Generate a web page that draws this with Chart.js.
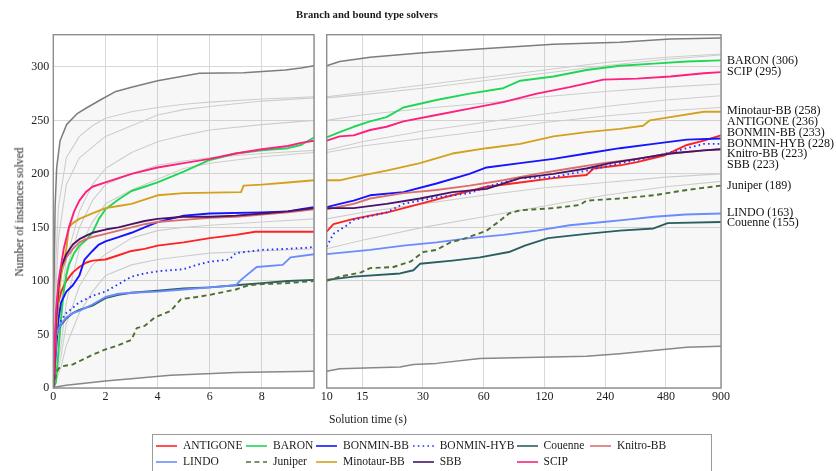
<!DOCTYPE html>
<html><head><meta charset="utf-8">
<script src="https://cdn.jsdelivr.net/npm/chart.js@4.4.1/dist/chart.umd.min.js"></script>
<style>
html,body{margin:0;padding:0;background:#fff;}
#wrap{position:relative;width:836px;height:471px;overflow:hidden;font-family:"Liberation Serif","Times New Roman",serif;color:#1a1a1a;}
canvas{position:absolute;left:0;top:0;}
.t{position:absolute;white-space:nowrap;line-height:1;}
#title{left:367px;top:13.5px;transform:translate(-50%,-50%);font-weight:bold;font-size:10.7px;}
#ytitle{left:19.5px;top:211.5px;transform:translate(-50%,-50%) rotate(-90deg);font-size:11.6px;}
#xtitle{left:368px;top:420px;transform:translate(-50%,-50%);font-size:11.6px;}
#legbox{position:absolute;left:152px;top:434px;width:560px;height:50px;border:1px solid #9a9a9a;box-sizing:border-box;}
.li{position:absolute;font-size:11.5px;white-space:nowrap;line-height:1;}
.li svg{position:absolute;left:0;top:-3px;}
.li span{position:absolute;left:27px;top:0;transform:translateY(-50%);}
</style></head><body>
<div id="wrap">
<canvas id="cL" width="836" height="420"></canvas>
<canvas id="cR" width="836" height="420"></canvas>
<div class="t" id="title">Branch and bound type solvers</div>
<div class="t" id="ytitle">Number of instances solved</div>
<div class="t" id="xtitle">Solution time (s)</div>
<div id="legbox"></div>
<div id="legend"></div>
</div>
<script>
// ---- data: [time (s), instances solved] ----
const ANTIGONE = [[0,0],[0.05,20],[0.1,55],[0.2,80],[0.3,90],[0.5,100],[0.75,108],[1,113],[1.25,117],[1.5,119],[2,120],[2.5,124],[3,128],[3.5,130],[4,133],[5,136],[6,140],[7,143],[7.75,146],[10,146],[10.8,153],[13.6,158],[16.4,161],[20,164],[29,172],[42,180],[62,188],[91,192],[133,196],[194,199],[210,205],[284,208],[345,211],[470,217],[610,227],[740,231],[900,236]];
const BARON = [[0,0],[0.1,5],[0.2,35],[0.3,65],[0.4,90],[0.5,105],[0.6,115],[0.8,126],[1,133],[1.25,138],[1.5,145],[1.75,158],[2,167],[2.5,176],[3,184],[3.5,188],[4,192],[5,202],[6,213],[7,219],[8,222],[9,224],[9.5,227],[10,234],[11.6,239],[13.6,244],[16.4,249],[19.8,253],[24,262],[35,269],[51,275],[75,280],[91,287],[133,291],[194,297],[284,301],[417,303],[610,305],[900,306]];
const BONMIN_BB = [[0,0],[0.05,15],[0.1,35],[0.2,65],[0.3,80],[0.5,90],[0.75,96],[1,105],[1.2,120],[1.5,128],[1.75,134],[2,137],[2.5,141],[3,145],[3.5,150],[4,155],[4.5,158],[5,161],[6,163],[8,164],[9,165],[9.5,167],[10,169],[11.6,172],[13.6,175],[16.4,180],[24,183],[35,191],[51,200],[62,206],[91,210],[133,214],[194,219],[284,224],[417,228],[610,232],[900,233]];
const BONMIN_HYB = [[0,0],[0.05,20],[0.1,45],[0.2,58],[0.3,63],[0.5,70],[0.75,75],[1,80],[1.5,86],[2,90],[2.5,97],[3,104],[3.5,107],[4,109],[5,111],[5.5,115],[6,118],[6.75,120],[7,126],[8,129],[9,130],[9.75,131],[10,132],[10.8,144],[12.6,152],[13.6,157],[19.8,164],[24,172],[35,178],[51,182],[62,188],[91,196],[133,197],[194,203],[284,210],[417,216],[610,224],[740,228],[900,228]];
const COUENNE = [[0,0],[0.05,20],[0.1,48],[0.2,55],[0.3,59],[0.5,65],[0.75,70],[1,73],[1.5,77],[2,84],[2.5,87],[3,89],[4,91],[5,93],[6,94],[7,96],[8,98],[9,100],[10,101],[13.6,104],[23.1,107],[26.9,110],[29,116],[42,119],[57.5,122],[80,127],[96,133],[125,140],[194,144],[284,147],[417,149],[490,154],[900,155]];
const KNITRO_BB = [[0,0],[0.05,18],[0.1,55],[0.2,90],[0.3,108],[0.5,122],[0.75,130],[1,136],[1.25,139],[1.5,141],[2,144],[2.5,147],[3,150],[3.5,153],[4,155],[5,157],[6,159],[7,160],[8,162],[9,164],[10,167],[13.6,172],[16.4,177],[24,182],[35,185],[51,189],[75,194],[110,200],[160,205],[235,210],[345,214],[504,219],[740,222],[900,223]];
const LINDO = [[0,0],[0.05,20],[0.1,48],[0.2,55],[0.3,60],[0.5,66],[0.75,70],[1,72],[1.5,78],[2,85],[2.5,88],[3,89],[4,90],[5,92],[6,94],[7,96],[7.2,101],[7.8,113],[8.8,115],[9.1,122],[10,125],[16.4,129],[24,133],[35,136],[51,140],[75,143],[110,147],[160,152],[235,155],[300,157],[420,160],[600,162],[900,163]];
const JUNIPER = [[0,0],[0.05,5],[0.1,13],[0.2,18],[0.3,20],[0.5,21],[0.75,22],[1,25],[1.5,31],[2,36],[2.5,40],[3,45],[3.2,56],[3.5,58],[3.9,66],[4.5,72],[4.9,83],[5.5,85],[6,87],[7,92],[7.5,96],[8,97],[9,98],[10,100],[11.6,104],[14.8,108],[16.4,112],[21.4,113],[26,118],[30.1,127],[35,129],[41,136],[49,140],[62,147],[72,156],[80,163],[91,166],[133,168],[180,171],[194,175],[284,177],[417,180],[610,185],[900,189]];
const MINOTAUR_BB = [[0,0],[0.05,20],[0.1,50],[0.2,85],[0.3,105],[0.4,118],[0.5,130],[0.55,140],[0.6,150],[0.75,154],[1,158],[1.5,163],[2,168],[2.5,170],[3,172],[3.5,176],[4,180],[5,182],[7.2,183],[7.3,189],[8,190],[9,192],[10,194],[11.6,194],[13.6,197],[19.8,203],[29,210],[42,219],[62,224],[91,228],[133,235],[194,239],[284,242],[370,245],[400,250],[504,253],[740,258],[900,258]];
const SBB = [[0,0],[0.05,20],[0.1,60],[0.2,95],[0.3,113],[0.5,125],[0.75,134],[1,139],[1.25,142],[1.5,145],[2,148],[2.5,150],[3,153],[3.5,156],[4,158],[5,160],[6,160],[7,161],[8,163],[9,165],[10,168],[13.6,168],[19.8,172],[29,177],[42,183],[62,186],[91,196],[133,200],[194,205],[254,210],[345,214],[504,219],[740,222],[900,223]];
const SCIP = [[0,0],[0.05,30],[0.1,70],[0.2,100],[0.3,115],[0.4,130],[0.5,140],[0.6,150],[0.8,165],[1,175],[1.25,183],[1.5,188],[2,192],[2.5,196],[3,200],[4,206],[5,210],[6,214],[7,219],[8,223],[9,226],[9.5,229],[10,231],[11.6,235],[13.6,236],[16.4,241],[19.8,244],[24,249],[35,255],[51,261],[75,267],[110,275],[160,281],[235,288],[345,289],[504,291],[740,294],[900,295]];
// other solvers (grey background)
const BEST = [[0,0],[0.03,100],[0.07,170],[0.13,206],[0.26,231],[0.51,246],[0.9,256],[1.3,262],[1.8,269],[2.4,277],[3,281],[4,287],[5.6,294],[7.3,294.5],[8.9,297],[9.5,299],[10,301],[11.6,305],[12.6,306],[16.4,309],[29,313],[62,317],[133,321],[284,323],[504,326],[900,327]];
const WORST = [[0,0],[0.1,1],[0.5,2.5],[1.3,4.7],[2,6.6],[3.1,8.8],[4.5,11.8],[5.9,13.4],[7,14.4],[10,15.6],[11.6,18],[23.1,19.6],[26.9,22],[35,23],[57.5,27.5],[194,29.6],[284,32],[415,35],[610,38],[900,39]];
const GREY1 = [[0,0],[0.1,120],[0.2,170],[0.5,215],[1,235],[1.5,245],[2,252],[3,258],[4,262],[5,265],[6,267],[8,270],[10,272],[15,276],[30,283],[60,290],[120,297],[240,304],[480,309],[900,312]];
const GREY2 = [[0,0],[0.1,90],[0.2,140],[0.5,190],[1,215],[2,235],[3,245],[4,255],[5,260],[6,263],[8,268],[10,271],[15,274],[30,280],[60,287],[120,294],[240,301],[480,307],[900,311]];
const GREY3 = [[0,0],[0.2,60],[0.5,120],[1,165],[1.5,190],[2,205],[3,220],[4,230],[5,236],[6,241],[8,246],[10,250],[15,255],[30,261],[60,266],[120,272],[240,277],[480,281],[900,284]];
const GREY4 = [[0,0],[0.2,50],[0.5,110],[1,150],[1.5,175],[2,190],[3,200],[4,208],[5,212],[6,215],[8,219],[10,222],[15,230],[30,240],[60,248],[120,256],[240,263],[480,269],[900,273]];
const GREY5 = [[0,0],[0.3,40],[0.5,80],[1,130],[1.5,155],[2,172],[3,185],[4,195],[5,205],[6,210],[8,216],[10,220],[15,226],[30,233],[60,240],[120,248],[240,254],[480,259],[900,262]];
const GREY6 = [[0,0],[0.3,30],[0.5,60],[1,95],[1.5,115],[2,125],[3,140],[4,147],[5,150],[6,152],[8,155],[10,158],[15,164],[30,172],[60,180],[120,187],[240,192],[480,197],[900,200]];
const GREY7 = [[0,0],[0.3,20],[0.5,40],[1,70],[1.5,90],[2,105],[3,115],[4,120],[5,123],[6,126],[8,128],[10,130],[15,138],[30,150],[60,160],[120,170],[240,180],[480,188],[900,193]];

const SOLVER_NAMES = ['ANTIGONE','BARON','BONMIN-BB','BONMIN-HYB','Couenne','Knitro-BB','LINDO','Juniper','Minotaur-BB','SBB','SCIP'];
const SOLVER_DATA = [ANTIGONE,BARON,BONMIN_BB,BONMIN_HYB,COUENNE,KNITRO_BB,LINDO,JUNIPER,MINOTAUR_BB,SBB,SCIP];
const GREY_DATA = [GREY1,GREY2,GREY3,GREY4,GREY5,GREY6,GREY7];
const X_TICKS_LEFT = [0,2,4,6,8,10];
const X_TICKS_RIGHT = [10,15,30,60,120,240,480,900];
const Y_TICKS = [0,50,100,150,200,250,300];

// ---- styles ----
const COLORS = ['#ff2222','#1fd655','#1414ff','#2233ff','#2a5f62','#d9706c','#6a8cff','#4d6f30','#d4a11e','#4a1466','#ff1f7c'];
const DASHES = [[],[],[],[1.6,3.2],[],[],[],[5,3.5],[],[],[]];
const FONT = '"Liberation Serif","Times New Roman",serif';

function pick(pts, left){
  return pts.filter(p => left ? p[0] <= 10 : p[0] >= 10).map(p => ({x:p[0], y:p[1]}));
}

const boxPlugin = {
  id:'box',
  afterDatasetsDraw(chart){
    const {ctx, chartArea:a} = chart;
    ctx.save();
    ctx.strokeStyle = '#8e8e8e';
    ctx.lineWidth = 1.4;
    ctx.strokeRect(a.left, a.top, a.right-a.left, a.bottom-a.top);
    ctx.restore();
  }
};

const labelPlugin = {
  id:'endLabels',
  afterDraw(chart){
    const {ctx, chartArea:a} = chart;
    const ys = chart.scales.y;
    const gap = 10.7;
    const items = SOLVER_NAMES.map((n,i) => {
      const v = SOLVER_DATA[i][SOLVER_DATA[i].length-1][1];
      return {text: n + ' (' + v + ')', v, idx:i, desired: ys.getPixelForValue(v)};
    });
    items.sort((p,q) => (q.v - p.v) || (p.idx - q.idx));
    let groups = items.map(it => ({members:[it], center: it.desired}));
    let changed = true;
    while (changed) {
      changed = false;
      for (let i=0;i<groups.length-1;i++){
        const A = groups[i], B = groups[i+1];
        const aBot = A.center + (A.members.length-1)*gap/2;
        const bTop = B.center - (B.members.length-1)*gap/2;
        if (bTop - aBot < gap) {
          const members = A.members.concat(B.members);
          const center = members.reduce((s,m)=>s+m.desired,0)/members.length;
          groups.splice(i,2,{members, center});
          changed = true; break;
        }
      }
    }
    ctx.save();
    ctx.font = '12px ' + FONT;
    ctx.fillStyle = '#111';
    ctx.textBaseline = 'middle';
    ctx.textAlign = 'left';
    groups.forEach(g => g.members.forEach((m,k) => {
      const y = g.center + (k-(g.members.length-1)/2)*gap;
      ctx.fillText(m.text, a.right + 6, y);
    }));
    ctx.restore();
  }
};

function buildDatasets(left){
  const ds = [];
  SOLVER_DATA.forEach((pts,i) => {
    ds.push({label:SOLVER_NAMES[i], data:pick(pts,left), borderColor:COLORS[i], borderWidth:1.9,
      borderDash:DASHES[i], pointRadius:0, tension:0, fill:false, order:-i});
  });
  GREY_DATA.forEach((pts,i) => {
    ds.push({label:'grey'+i, data:pick(pts,left), borderColor:'#cdcdcd', borderWidth:1.1,
      pointRadius:0, tension:0, fill:false, order:100});
  });
  const bestIdx = ds.length;
  ds.push({label:'best', data:pick(BEST,left), borderColor:'#7d7d7d', borderWidth:1.5, pointRadius:0,
    tension:0, fill:bestIdx+1, backgroundColor:'rgba(0,0,0,0.03)', order:150});
  ds.push({label:'worst', data:pick(WORST,left), borderColor:'#8a8a8a', borderWidth:1.5, pointRadius:0,
    tension:0, fill:false, order:150});
  return ds;
}

const tickFont = {family:FONT, size:12};
const gridOpt = {color:'#d9d9d9', lineWidth:1, drawTicks:false};

function makeChart(id, left){
  const xScale = left ? {
    type:'linear', min:0, max:10,
    afterBuildTicks: s => { s.ticks = X_TICKS_LEFT.map(v => ({value:v})); },
    ticks:{callback: v => v === 10 ? '' : String(v), font:tickFont, color:'#222', padding:2, maxRotation:0, autoSkip:false},
    grid:gridOpt, border:{display:false},
    afterFit: s => { s.height = 32; }
  } : {
    type:'logarithmic', min:10, max:900,
    afterBuildTicks: s => { s.ticks = X_TICKS_RIGHT.map(v => ({value:v})); },
    ticks:{callback: v => String(v), font:tickFont, color:'#222', padding:2, maxRotation:0, autoSkip:false},
    grid:gridOpt, border:{display:false},
    afterFit: s => { s.height = 32; }
  };
  const yScale = {
    type:'linear', min:0, max:330,
    afterBuildTicks: s => { s.ticks = Y_TICKS.map(v => ({value:v})); },
    ticks:{display:left, font:tickFont, color:'#222', padding:4},
    grid:gridOpt, border:{display:false},
    afterFit: s => { s.width = left ? 53.3 : 0; }
  };
  return new Chart(document.getElementById(id), {
    type:'line',
    data:{datasets:buildDatasets(left)},
    options:{
      responsive:false, animation:false, devicePixelRatio:1, parsing:true,
      layout:{padding: left ? {left:0, right:836-314, top:34.7, bottom:0} : {left:326.7, right:836-721, top:34.7, bottom:0}},
      plugins:{legend:{display:false}, tooltip:{enabled:false}},
      scales:{x:xScale, y:yScale},
      elements:{line:{borderCapStyle:'butt', borderJoinStyle:'round'}}
    },
    plugins: left ? [boxPlugin] : [boxPlugin, labelPlugin]
  });
}

makeChart('cL', true);
makeChart('cR', false);

// ---- legend (HTML, real text) ----
const LEG_X = [156,246,316,412.7,516.5,590];
const LEG_Y = [445.7,462.3];
const legend = document.getElementById('legend');
SOLVER_NAMES.forEach((name,i) => {
  const row = i < 6 ? 0 : 1;
  const col = i < 6 ? i : i - 6;
  const d = document.createElement('div');
  d.className = 'li';
  d.style.left = LEG_X[col] + 'px';
  d.style.top = LEG_Y[row] + 'px';
  const dash = DASHES[i].length ? ' stroke-dasharray="' + DASHES[i].join(',') + '"' : '';
  d.innerHTML = '<svg width="22" height="6"><line x1="0" y1="3" x2="21" y2="3" stroke="' + COLORS[i] +
    '" stroke-width="1.6"' + dash + '/></svg><span>' + name + '</span>';
  legend.appendChild(d);
});
</script>
</body></html>
